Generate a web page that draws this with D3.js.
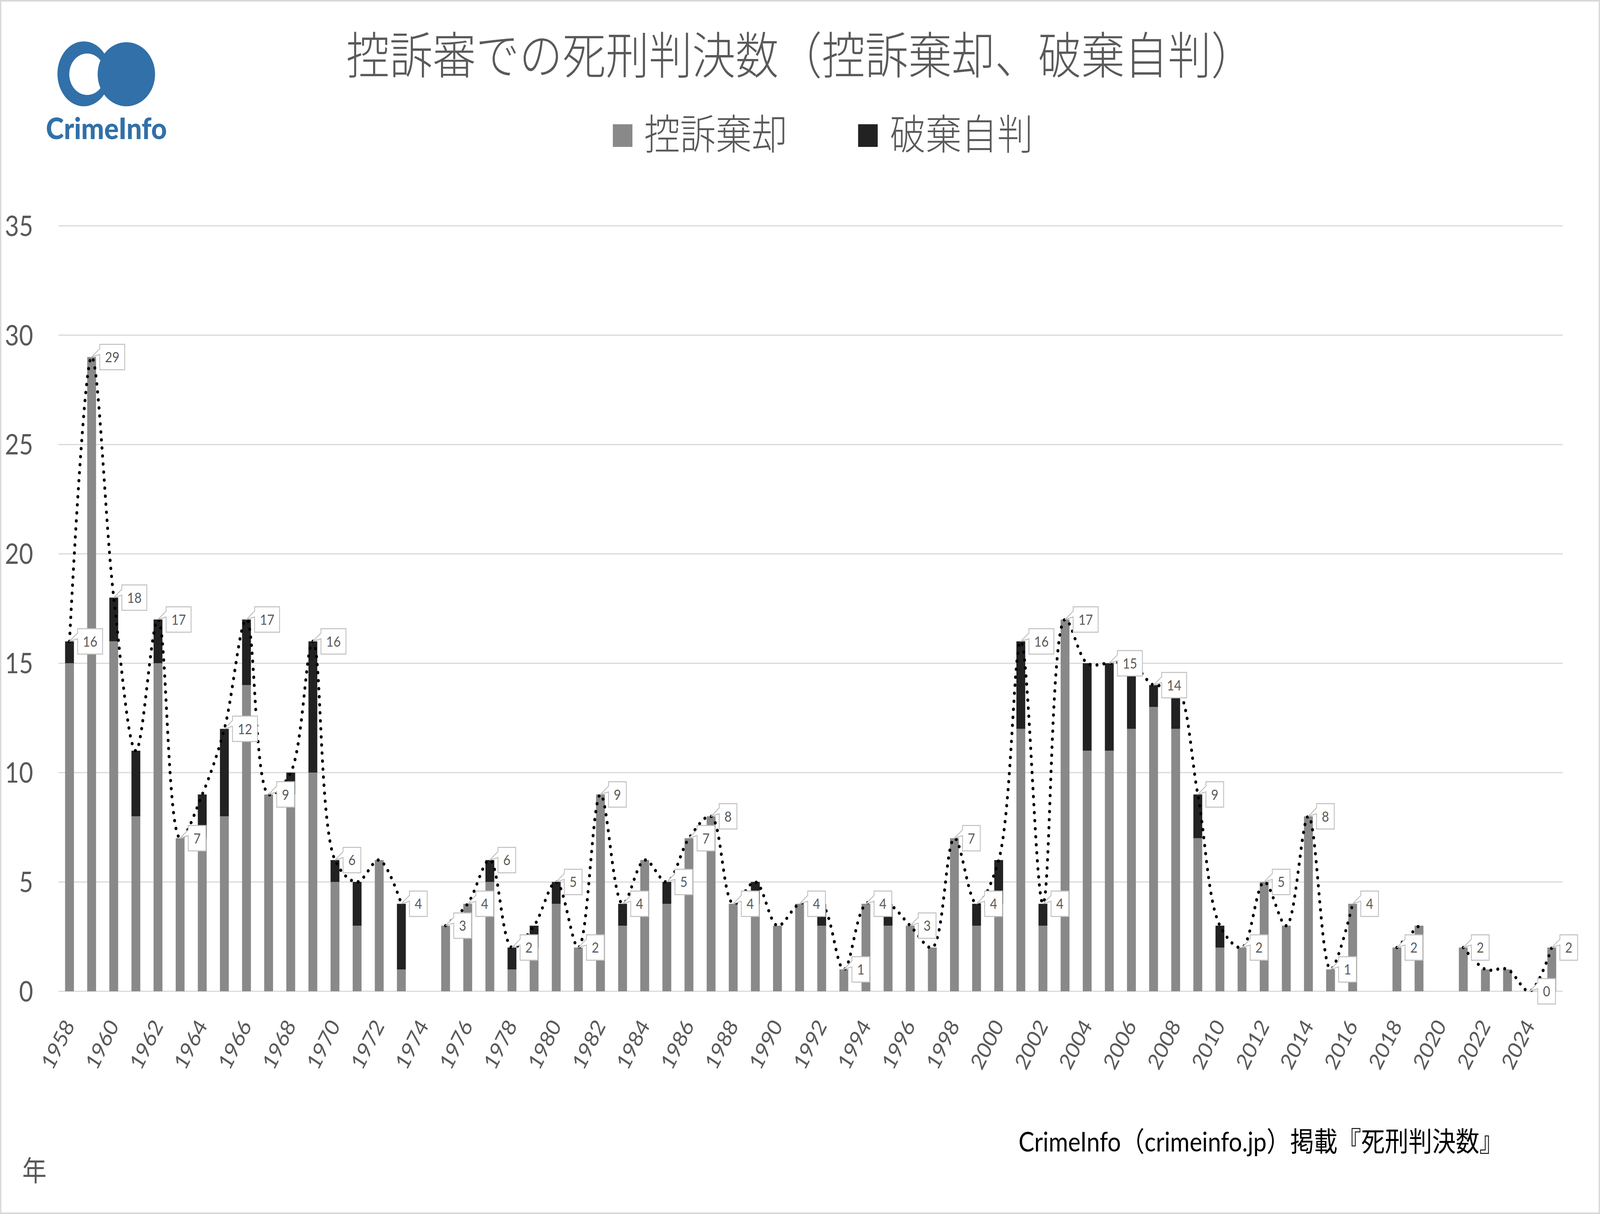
<!DOCTYPE html>
<html><head><meta charset="utf-8">
<script src="https://cdn.jsdelivr.net/npm/d3@7"></script>
<style>html,body{margin:0;padding:0;background:#fff;overflow:hidden;width:100%;height:100%;} svg{display:block;width:100vw;height:100vh;}</style>
</head><body>
<svg id="chart" viewBox="0 0 4736 3107" preserveAspectRatio="none"></svg>
<script>
// ---- DATA ----
const years = [1958,1959,1960,1961,1962,1963,1964,1965,1966,1967,1968,1969,1970,1971,1972,1973,1974,1975,1976,1977,1978,1979,1980,1981,1982,1983,1984,1985,1986,1987,1988,1989,1990,1991,1992,1993,1994,1995,1996,1997,1998,1999,2000,2001,2002,2003,2004,2005,2006,2007,2008,2009,2010,2011,2012,2013,2014,2015,2016,2017,2018,2019,2020,2021,2022,2023,2024,2025];
// 控訴棄却 (gray)
const kouso = [15,29,16,8,15,7,7,8,14,9,9,10,5,3,6,1,null,3,4,5,1,2,4,2,9,3,6,4,7,8,4,4,3,4,3,1,4,3,3,2,7,3,4,12,3,17,11,11,12,13,12,7,2,2,5,3,8,1,4,null,2,3,null,2,1,1,0,2];
// 破棄自判 (black)
const haki  = [1,0,2,3,2,0,2,4,3,0,1,6,1,2,0,3,null,0,0,1,1,1,1,0,0,1,0,1,0,0,0,1,0,0,1,0,0,1,0,0,0,1,2,4,1,0,4,4,3,1,2,2,1,0,0,0,0,0,0,null,0,0,null,0,0,0,0,0];
const labelYears = [1958,1959,1960,1962,1963,1965,1966,1967,1969,1970,1973,1975,1976,1977,1978,1980,1981,1982,1983,1985,1986,1987,1988,1991,1993,1994,1996,1998,1999,2001,2002,2003,2005,2007,2009,2011,2012,2014,2015,2016,2018,2021,2024,2025];
const xTickLabels = [1958,1960,1962,1964,1966,1968,1970,1972,1974,1976,1978,1980,1982,1984,1986,1988,1990,1992,1994,1996,1998,2000,2002,2004,2006,2008,2010,2012,2014,2016,2018,2020,2022,2024];
const yTickLabels = [0,5,10,15,20,25,30,35];
const seriesNames = ["控訴棄却","破棄自判"];
const titleText = "控訴審での死刑判決数（控訴棄却、破棄自判）";
const sourceText = "CrimeInfo（crimeinfo.jp）掲載『死刑判決数』";
const xAxisTitle = "年";
const logoText = "CrimeInfo";

// ---- STYLE ----
const W = 4736, H = 3107;
const GRAY = "#898989", BLACK = "#222222", TXT = "#595959", GRID = "#d9d9d9";
const LATIN = "Lato, 'Noto Sans', sans-serif";
const CJK = "'Noto Sans CJK JP', 'Noto Sans', sans-serif";

const svg = d3.select("#chart");
svg.append("rect").attr("x",0).attr("y",0).attr("width",W).attr("height",H).attr("fill","#fff");
svg.append("rect").attr("x",2).attr("y",2).attr("width",W-4).attr("height",H-4)
  .attr("fill","none").attr("stroke",GRID).attr("stroke-width",4);

const rows = years.map((yr,i)=>({year:yr, kouso:kouso[i], haki:haki[i],
  total: kouso[i]==null ? null : kouso[i]+haki[i]}));

const x = d3.scaleBand().domain(years).range([173, 4626]).paddingInner(0.6).paddingOuter(0.3);
const y = d3.scaleLinear().domain([0,35]).range([2537, 578]);
const cx = yr => x(yr) + x.bandwidth()/2;

// gridlines
svg.append("g").selectAll("line").data(yTickLabels).join("line")
  .attr("x1",173).attr("x2",4626).attr("y1",d=>y(d)).attr("y2",d=>y(d))
  .attr("stroke",GRID).attr("stroke-width",3);

// y axis labels
const yAxis = d3.axisLeft(y).tickValues(yTickLabels).tickSize(0).tickPadding(0);
const yg = svg.append("g").attr("transform","translate(98,0)").call(yAxis);
yg.select(".domain").remove();
yg.selectAll("text").attr("font-family",LATIN).attr("font-size",72).attr("fill",TXT)
  .attr("dy","0.35em").attr("x",0).attr("text-anchor","end");

// x axis labels
const xAxis = d3.axisBottom(x).tickValues(xTickLabels).tickSize(0).tickPadding(0);
const xg = svg.append("g").attr("transform","translate(0,2537)").call(xAxis);
xg.select(".domain").remove();
xg.selectAll(".tick text").attr("font-family",LATIN).attr("font-size",58).attr("fill",TXT)
  .attr("text-anchor","end").attr("dy",0).attr("y",0)
  .attr("transform","translate(17,88) rotate(-60)");

// stacked bars
const valid = rows.filter(d=>d.kouso!=null);
const stack = d3.stack().keys(["kouso","haki"])(valid);
const colors = [GRAY, BLACK];
svg.append("g").selectAll("g").data(stack).join("g").attr("fill",(d,i)=>colors[i])
  .selectAll("rect").data(d=>d).join("rect")
  .attr("x",d=>x(d.data.year)).attr("width",x.bandwidth())
  .attr("y",d=>y(d[1])).attr("height",d=>y(d[0])-y(d[1]));

// dotted smooth total line
const line = d3.line().defined(d=>d.total!=null)
  .x(d=>cx(d.year)).y(d=>y(d.total)).curve(d3.curveCatmullRom.alpha(0.5));
svg.append("path").datum(rows).attr("d",line).attr("fill","none")
  .attr("stroke","#000").attr("stroke-width",8.5).attr("stroke-linecap","round")
  .attr("stroke-dasharray","0.1 20.5");

// data labels (callouts)
const lg = svg.append("g");
rows.filter(d=>labelYears.includes(d.year)).forEach(d=>{
  const px = cx(d.year), py = y(d.total);
  const g = lg.append("g");
  const path = g.append("path");
  const t = g.append("text").text(d.total).attr("font-family",LATIN).attr("font-size",37)
    .attr("fill",TXT).attr("text-anchor","middle").attr("dy","0.36em");
  const tw = t.node().getComputedTextLength();
  const bw = tw + 31, bh = 65;
  const L = px + 24, T = py - bh/2, R = L + bw, B = T + bh;
  path.attr("d",`M${L},${T}H${R}V${B}H${L}V${T+26}L${px},${py}L${L},${T+11}Z`)
    .attr("fill","#fff").attr("stroke","#bfbfbf").attr("stroke-width",2.5).attr("stroke-linejoin","miter");
  t.attr("x",L+bw/2).attr("y",py);
});

// title
svg.append("text").text(titleText).attr("x",1025).attr("y",133)
  .attr("font-family",CJK).attr("font-weight",300).attr("font-size",128).attr("fill",TXT)
  .attr("dominant-baseline","central");

// legend
const legX = [1814, 2540], legTX = [1907, 2634];
seriesNames.forEach((n,i)=>{
  svg.append("rect").attr("x",legX[i]).attr("y",318).attr("width",58).attr("height",58).attr("fill",colors[i]);
  svg.append("text").text(n).attr("x",legTX[i]).attr("y",336)
    .attr("font-family",CJK).attr("font-weight",300).attr("font-size",106).attr("fill",TXT)
    .attr("dominant-baseline","central");
});

// x-axis title
svg.append("text").text(xAxisTitle).attr("x",102).attr("y",2990).attr("text-anchor","middle")
  .attr("dominant-baseline","central").attr("font-family",CJK).attr("font-size",72).attr("fill",TXT);

// source
svg.append("text").text(sourceText).attr("x",3015).attr("y",2920)
  .attr("dominant-baseline","central").attr("font-family","Lato, 'Noto Sans CJK JP', sans-serif")
  .attr("font-size",70).attr("fill","#000");

// logo
const BLUE = "#3170a8";
const logo = svg.append("g");
logo.append("ellipse").attr("cx",248).attr("cy",189).attr("rx",78).attr("ry",83).attr("fill",BLUE);
logo.append("ellipse").attr("cx",258).attr("cy",190).attr("rx",53).attr("ry",53).attr("fill","#fff");
logo.append("ellipse").attr("cx",374).attr("cy",190).attr("rx",85).attr("ry",82).attr("fill",BLUE);
logo.append("text").text(logoText).attr("x",136).attr("y",356)
  .attr("font-family",LATIN).attr("font-weight",900).attr("font-size",76).attr("fill",BLUE)
  .attr("textLength",358).attr("lengthAdjust","spacingAndGlyphs");
</script>
</body></html>
